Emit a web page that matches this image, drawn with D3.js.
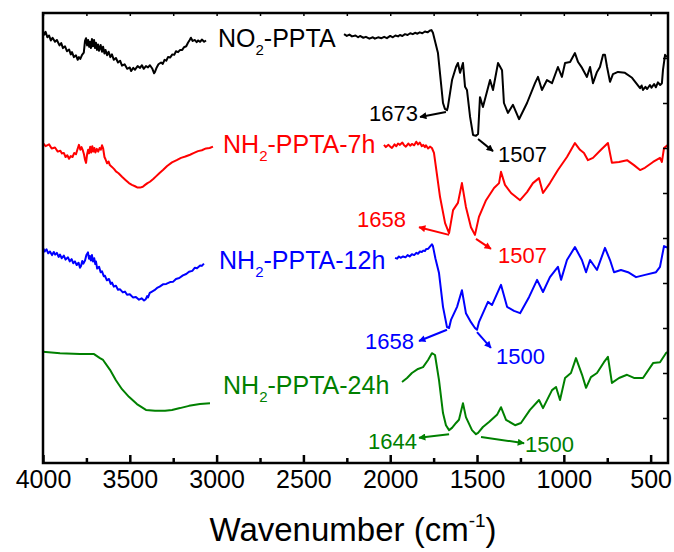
<!DOCTYPE html>
<html>
<head>
<meta charset="utf-8">
<script src="https://cdn.jsdelivr.net/npm/d3@7"></script>
<style>
  html, body { margin: 0; padding: 0; background: #fff; }
  svg { display: block; font-family: "Liberation Sans", Arial, sans-serif; }
</style>
</head>
<body>
<svg id="chart" width="674" height="552"></svg>
<script>
// ---------- DATA (wavenumber cm-1, transmittance a.u.) ----------
const xTickValues = [4000, 3500, 3000, 2500, 2000, 1500, 1000, 500];
const xMinorTicks = [3750, 3250, 2750, 2250, 1750, 1250, 750];
const yTickValues = [10, 20, 30, 40, 50, 60, 70, 80, 90];

const seriesNames = ["NO2-PPTA", "NH2-PPTA-7h", "NH2-PPTA-12h", "NH2-PPTA-24h"];
const seriesColors = ["#000000", "#ff0000", "#0000ff", "#008000"];

const no2Left = [
  [4000,96.0],[3992,95.2],[3985,95.8],[3975,94.6],[3965,95.0],[3955,93.9],[3945,94.5],[3931,93.6],[3920,94.0],[3905,92.8],
  [3895,93.3],[3885,92.2],[3873,92.6],[3862,91.5],[3850,91.9],[3840,90.8],[3833,91.3],[3822,90.2],[3810,90.6],[3800,89.6],
  [3793,90.2],[3785,89.8],[3775,90.7],[3765,91.2],[3758,93.8],[3752,94.4],[3746,92.8],[3740,94.0],[3734,92.5],[3729,93.6],
  [3724,92.2],[3718,94.2],[3712,92.6],[3706,94.0],[3700,92.2],[3695,93.4],[3689,91.8],[3683,93.0],[3677,91.6],[3668,92.9],
  [3660,91.4],[3654,92.5],[3646,91.0],[3640,91.8],[3631,90.6],[3622,91.4],[3612,90.2],[3603,90.8],[3592,89.6],[3580,90.0],
  [3568,89.0],[3556,89.4],[3545,88.3],[3530,88.6],[3515,87.6],[3500,87.9],[3493,87.1],[3480,87.8],[3470,87.4],[3455,88.2],
  [3441,87.8],[3430,88.4],[3420,87.6],[3407,88.2],[3395,87.9],[3384,88.4],[3370,87.6],[3360,86.6],[3355,86.9],[3345,87.9],
  [3335,88.6],[3320,89.0],[3310,88.7],[3300,89.6],[3290,89.4],[3280,90.2],[3268,90.1],[3255,90.8],[3244,90.7],[3234,91.5],
  [3222,91.3],[3210,91.8],[3198,91.8],[3188,92.4],[3175,92.6],[3165,93.4],[3155,94.0],[3148,94.5],[3138,93.8],[3125,94.0],
  [3115,93.5],[3107,93.9],[3095,93.6],[3085,94.1],[3072,93.6],[3061,93.9]
];
const no2Right = [
  [2266,95.3],[2250,94.9],[2235,95.2],[2220,94.8],[2200,95.0],[2185,94.6],[2174,94.9],[2155,94.5],[2140,94.7],[2120,94.3],
  [2100,94.6],[2088,94.3],[2070,94.6],[2050,94.4],[2035,94.7],[2019,94.4],[2000,94.9],[1985,94.6],[1970,95.0],[1955,94.8],
  [1944,95.1],[1930,94.9],[1915,95.3],[1900,95.1],[1885,95.5],[1870,95.3],[1857,95.6],[1843,95.4],[1830,95.7],[1815,95.5],
  [1800,95.9],[1785,95.7],[1771,96.1],[1762,96.2],[1754,95.6],[1725,91.1],[1696,80.0],[1685,78.7],[1673,78.4],[1668,79.1],
  [1644,85.1],[1621,88.0],[1610,88.9],[1598,86.7],[1581,88.9],[1569,83.6],[1558,82.9],[1540,76.9],[1523,72.9],[1507,72.7],
  [1494,73.1],[1483,81.3],[1466,79.1],[1425,85.1],[1408,82.9],[1379,88.9],[1356,87.3],[1345,80.0],[1322,77.8],[1293,79.6],
  [1258,76.4],[1212,80.0],[1166,84.4],[1149,85.8],[1126,82.9],[1097,85.1],[1068,84.4],[1034,88.0],[1011,85.8],[993,88.9],
  [964,89.1],[936,91.1],[918,89.1],[895,87.8],[867,85.8],[849,88.0],[832,84.4],[809,86.9],[792,88.0],[774,90.7],
  [763,90.7],[751,88.0],[734,84.7],[717,86.4],[688,86.9],[648,86.7],[607,85.6],[561,83.3],[552,83.9],[544,82.9],
  [530,83.6],[520,83.1],[504,84.0],[495,83.4],[480,84.2],[470,83.5],[458,84.6],[445,84.0],[435,84.4],[429,87.3],
  [417,90.7],[406,90.2]
];

const nh7Left = [
  [4000,71.1],[3985,70.4],[3965,70.8],[3950,69.9],[3931,70.1],[3915,69.2],[3900,69.4],[3891,68.8],[3880,68.9],[3870,68.0],
  [3860,68.4],[3850,67.6],[3840,68.2],[3830,68.0],[3820,68.9],[3810,68.6],[3800,69.9],[3793,70.7],[3785,69.6],[3778,70.2],
  [3770,69.4],[3764,68.6],[3758,67.4],[3752,66.7],[3746,68.6],[3740,69.6],[3735,68.8],[3728,70.3],[3722,69.0],[3716,70.4],
  [3710,69.2],[3704,70.0],[3698,69.0],[3690,69.8],[3682,69.2],[3674,70.0],[3667,69.6],[3660,70.6],[3654,70.0],[3646,68.0],
  [3640,67.5],[3631,66.6],[3622,67.0],[3615,66.2],[3603,65.8],[3590,65.3],[3580,64.8],[3565,64.4],[3545,63.6],[3525,62.9],
  [3505,62.2],[3488,61.8],[3470,61.5],[3455,61.2],[3441,61.2],[3425,61.4],[3412,61.8],[3398,62.2],[3384,62.5],[3365,63.1],
  [3349,63.7],[3330,64.4],[3309,65.1],[3285,66.0],[3257,66.8],[3230,67.3],[3205,67.8],[3180,68.1],[3153,68.5],[3130,68.9],
  [3107,69.3],[3085,69.5],[3061,69.9],[3040,70.0],[3021,70.3]
];
const nh7Right = [
  [2036,70.7],[2025,70.2],[2010,70.7],[2000,70.3],[1990,70.0],[1975,70.8],[1965,70.4],[1955,71.0],[1944,70.7],[1930,71.2],
  [1920,70.6],[1910,70.3],[1895,71.0],[1885,70.5],[1875,70.9],[1862,70.6],[1850,71.4],[1840,70.8],[1829,71.2],[1818,70.4],
  [1810,70.7],[1800,70.2],[1794,70.6],[1782,69.9],[1771,70.3],[1760,70.0],[1748,68.9],[1713,59.1],[1684,53.3],[1661,51.1],
  [1638,56.2],[1610,57.8],[1587,62.2],[1564,56.9],[1535,52.4],[1512,50.7],[1489,54.7],[1448,58.4],[1402,61.1],[1373,62.2],
  [1362,64.7],[1339,61.8],[1304,60.0],[1252,58.4],[1212,60.2],[1178,62.2],[1143,63.3],[1120,60.0],[1080,62.2],[1034,65.1],
  [982,68.0],[936,71.1],[907,69.6],[884,68.9],[861,67.3],[832,67.8],[786,69.6],[746,71.1],[723,66.7],[682,66.9],
  [636,67.3],[596,66.2],[561,65.1],[533,65.6],[486,66.9],[446,67.8],[435,66.9],[423,70.0],[400,70.7]
];

const nh12Left = [
  [4000,47.8],[3990,47.0],[3980,47.5],[3970,46.6],[3960,47.0],[3948,46.2],[3938,46.9],[3930,46.3],[3920,46.7],[3910,45.8],
  [3902,46.3],[3892,45.5],[3880,46.1],[3870,45.2],[3856,45.7],[3846,44.8],[3835,45.3],[3826,44.4],[3816,44.8],[3806,44.0],
  [3795,44.5],[3787,43.4],[3781,43.8],[3774,44.9],[3768,44.3],[3758,45.0],[3750,46.2],[3741,46.8],[3735,45.4],[3730,46.0],
  [3724,45.0],[3718,46.2],[3712,44.8],[3705,45.5],[3699,44.2],[3695,44.8],[3688,43.2],[3677,43.6],[3668,42.4],[3660,42.6],
  [3650,41.5],[3643,41.6],[3632,40.6],[3620,40.9],[3610,39.8],[3603,40.1],[3592,39.2],[3580,39.4],[3568,38.5],[3556,38.6],
  [3540,37.9],[3528,38.1],[3516,37.4],[3500,37.5],[3482,36.8],[3465,36.9],[3447,36.3],[3432,36.6],[3418,36.1],[3408,36.4],
  [3400,37.1],[3395,36.8],[3385,37.8],[3372,38.1],[3358,38.4],[3343,38.9],[3328,39.2],[3309,39.7],[3290,39.8],[3268,40.2],
  [3250,40.3],[3234,40.9],[3215,41.1],[3194,41.7],[3175,42.0],[3159,42.5],[3140,42.7],[3125,43.4],[3113,43.3],[3095,43.9],
  [3085,43.8],[3073,44.3]
];
const nh12Right = [
  [1972,45.6],[1960,45.4],[1950,45.9],[1940,45.6],[1926,45.9],[1912,45.7],[1900,46.2],[1888,45.9],[1875,46.4],[1862,46.2],
  [1850,46.7],[1840,46.5],[1829,47.0],[1818,46.9],[1810,47.2],[1800,47.1],[1794,47.5],[1782,47.6],[1771,48.1],[1760,48.6],
  [1754,48.2],[1740,45.5],[1719,42.2],[1696,34.7],[1673,30.2],[1661,30.0],[1650,31.8],[1615,34.7],[1587,38.4],[1564,33.3],
  [1535,31.3],[1512,30.0],[1500,29.6],[1489,31.3],[1437,35.8],[1414,35.1],[1362,39.6],[1327,34.7],[1287,33.8],[1252,33.3],
  [1200,36.9],[1154,40.7],[1120,38.0],[1080,41.3],[1034,43.6],[1016,40.7],[982,45.1],[936,48.0],[896,45.1],[872,42.4],
  [849,45.1],[809,42.9],[763,47.8],[734,45.1],[711,42.4],[671,42.9],[630,42.4],[584,41.3],[532,41.8],[469,42.4],
  [446,43.6],[435,45.8],[423,48.2],[400,47.8]
];

const nh24Left = [
  [4000,24.7],[3902,24.4],[3787,24.2],[3706,24.2],[3672,23.3],[3654,22.9],[3614,20.7],[3580,18.4],[3545,16.4],[3505,14.7],
  [3459,13.1],[3407,11.8],[3355,11.6],[3297,11.6],[3257,11.8],[3211,12.2],[3159,12.7],[3096,13.1],[3038,13.3]
];
const nh24Right = [
  [1932,18.0],[1903,18.9],[1875,20.0],[1840,20.9],[1811,21.3],[1782,22.9],[1760,24.4],[1742,24.0],[1719,18.4],[1696,11.1],
  [1679,8.4],[1661,7.3],[1644,7.8],[1621,8.9],[1604,9.6],[1581,13.3],[1564,10.2],[1529,7.3],[1506,6.4],[1494,6.7],
  [1466,8.0],[1431,9.1],[1385,10.7],[1362,12.4],[1333,9.6],[1281,8.4],[1247,8.9],[1195,11.8],[1143,14.0],[1120,12.2],
  [1068,16.2],[1045,16.9],[1022,14.0],[993,18.9],[959,20.0],[930,23.3],[895,19.6],[872,16.7],[844,19.1],[809,20.0],
  [769,22.4],[746,23.6],[723,17.8],[682,18.9],[636,19.6],[596,18.9],[544,18.9],[486,22.2],[446,22.4],[412,24.4],[400,24.7]
];

// curve labels: [wavenumber, value] of text start
const labelAnchors = [[2992,92.4],[2963,68.9],[2986,43.1],[2963,15.3]];

// peak annotations
const peakLabels = ["1673","1507","1658","1507","1658","1500","1644","1500"];
const peakSeries = [0,0,1,1,2,2,3,3];
const arrowFrom = [[1679,78.0],[1494,72.0],[1661,50.7],[1506,49.8],[1673,29.6],[1500,29.1],[1661,6.4],[1477,5.8]];
const arrowTo   = [[1828,76.9],[1408,69.3],[1834,52.4],[1420,47.6],[1834,27.1],[1420,25.6],[1834,5.6],[1229,4.4]];
const peakTextAt = [[1840,76.0],[1379,66.9],[1909,52.4],[1379,44.4],[1863,25.3],[1391,22.0],[1846,3.1],[1224,2.4]];
const peakTextSide = ["end","start","end","start","end","start","end","start"];

// ---------- CHART ----------
const svg = d3.select("#chart");
const xScale = d3.scaleLinear().domain([4000, 400]).range([43, 668]);
const yScale = d3.scaleLinear().domain([0, 100]).range([463, 13]);

const defs = svg.append("defs");
seriesColors.forEach((c, i) => {
  defs.append("marker")
    .attr("id", "arr" + i)
    .attr("viewBox", "0 0 10 10")
    .attr("refX", 9).attr("refY", 5)
    .attr("markerWidth", 9).attr("markerHeight", 7)
    .attr("markerUnits", "userSpaceOnUse")
    .attr("orient", "auto")
    .append("path").attr("d", "M0,0 L10,5 L0,10 Z").attr("fill", c);
});

const lineGen = d3.line().x(d => xScale(d[0])).y(d => yScale(d[1]));

const segments = [
  [no2Left, no2Right], [nh7Left, nh7Right], [nh12Left, nh12Right], [nh24Left, nh24Right]
];
segments.forEach((segs, i) => {
  segs.forEach(s => {
    svg.append("path").datum(s)
      .attr("d", lineGen)
      .attr("fill", "none")
      .attr("stroke", seriesColors[i])
      .attr("stroke-width", 2)
      .attr("stroke-linejoin", "round");
  });
});

seriesNames.forEach((name, i) => {
  const t = svg.append("text")
    .attr("x", xScale(labelAnchors[i][0]))
    .attr("y", yScale(labelAnchors[i][1]))
    .attr("fill", seriesColors[i])
    .attr("font-size", 25);
  t.append("tspan").text(name.slice(0, 2));
  t.append("tspan").attr("font-size", 15).attr("dy", 8).text(name.slice(2, 3));
  t.append("tspan").attr("dy", -8).text(name.slice(3));
});

peakLabels.forEach((lab, i) => {
  const c = seriesColors[peakSeries[i]];
  svg.append("line")
    .attr("x1", xScale(arrowFrom[i][0])).attr("y1", yScale(arrowFrom[i][1]))
    .attr("x2", xScale(arrowTo[i][0])).attr("y2", yScale(arrowTo[i][1]))
    .attr("stroke", c).attr("stroke-width", 2)
    .attr("marker-end", "url(#arr" + peakSeries[i] + ")");
  svg.append("text")
    .attr("x", xScale(peakTextAt[i][0])).attr("y", yScale(peakTextAt[i][1]))
    .attr("text-anchor", peakTextSide[i])
    .attr("fill", c)
    .attr("font-size", 22)
    .text(lab);
});

svg.append("rect")
  .attr("x", 43).attr("y", 13)
  .attr("width", 668 - 43).attr("height", 463 - 13)
  .attr("fill", "none").attr("stroke", "#000").attr("stroke-width", 2.5);

const bottomAxis = svg.append("g").attr("transform", "translate(0,463)")
  .call(d3.axisBottom(xScale).tickValues(xTickValues).tickSize(-8).tickPadding(7).tickFormat(d3.format("d")));
bottomAxis.select(".domain").remove();
bottomAxis.selectAll(".tick line").attr("stroke-width", 2.5);
bottomAxis.selectAll(".tick text").attr("font-size", 25).attr("font-family", "Liberation Sans, Arial, sans-serif").attr("fill", "#000");

const bottomMinor = svg.append("g").attr("transform", "translate(0,463)")
  .call(d3.axisBottom(xScale).tickValues(xMinorTicks).tickSize(-5).tickFormat(""));
bottomMinor.select(".domain").remove();
bottomMinor.selectAll(".tick line").attr("stroke-width", 2.5);

const topAxis = svg.append("g").attr("transform", "translate(0,13)")
  .call(d3.axisTop(xScale).tickValues(xTickValues.concat(xMinorTicks)).tickSize(-3).tickFormat(""));
topAxis.select(".domain").remove();
topAxis.selectAll(".tick line").attr("stroke-width", 1.5);

const rightAxis = svg.append("g").attr("transform", "translate(668,0)")
  .call(d3.axisRight(yScale).tickValues(yTickValues).tickSize(-5).tickFormat(""));
rightAxis.select(".domain").remove();
rightAxis.selectAll(".tick line").attr("stroke-width", 1.5);

const title = svg.append("text")
  .attr("x", 353).attr("y", 541)
  .attr("text-anchor", "middle")
  .attr("font-size", 33)
  .attr("fill", "#000");
title.append("tspan").text("Wavenumber (cm");
title.append("tspan").attr("font-size", 19).attr("dy", -14).text("-1");
title.append("tspan").attr("dy", 14).text(")");
</script>
</body>
</html>
